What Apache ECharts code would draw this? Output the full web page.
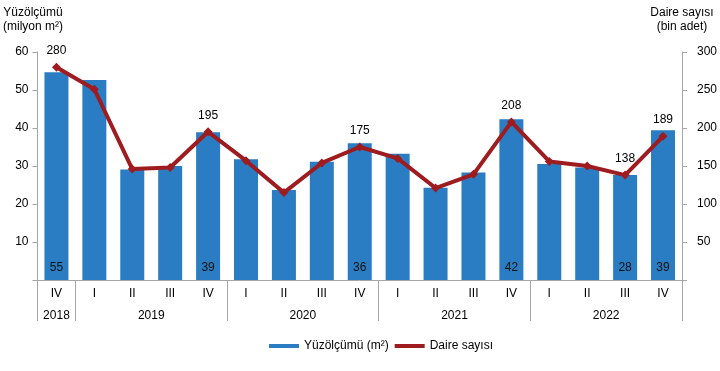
<!DOCTYPE html>
<html>
<head>
<meta charset="utf-8">
<script src="https://cdn.jsdelivr.net/npm/echarts@6/dist/echarts.min.js"></script>
<style>
html,body{margin:0;padding:0;background:#fff;}
#chart{width:720px;height:371px;}
</style>
</head>
<body>
<div id="chart"></div>
<script>
// ---- data ----
const periodYears = ['2018','2019','2019','2019','2019','2020','2020','2020','2020','2021','2021','2021','2021','2022','2022','2022','2022'];
const quarters    = ['IV','I','II','III','IV','I','II','III','IV','I','II','III','IV','I','II','III','IV'];
const areaValues  = [54.7, 52.6, 29.1, 30.0, 38.9, 31.8, 23.7, 31.1, 36.0, 33.2, 24.3, 28.3, 42.3, 30.5, 29.6, 27.6, 39.4];
const unitValues  = [280, 251, 146, 148, 195, 157, 115, 154, 175, 160, 121, 139, 208, 156, 150, 138, 189];
const labeledIdx  = [0, 4, 8, 12, 15, 16];
const leftTicks   = {min: 0, max: 60, interval: 10};
const rightTicks  = {min: 0, max: 300, interval: 50};
const seriesNames = ['Yüzölçümü (m²)', 'Daire sayısı'];

// ---- derived axis data ----
const catKeys = quarters.map((q, i) => periodYears[i] + ' ' + q);
// year axis: points at every half-quarter (boundaryGap false)
const nPts = quarters.length * 2 + 1;
const yearLabelAt = {};
const yearBoundary = new Set([0]);
let start = 0;
for (let i = 1; i <= periodYears.length; i++) {
  if (i === periodYears.length || periodYears[i] !== periodYears[start]) {
    yearLabelAt[start + i] = periodYears[start]; // center (in half units) = start + i
    yearBoundary.add(2 * i);
    start = i;
  }
}
const yearAxisData = Array.from({length: nPts}, (_, k) => 'p' + k);

const labelSet = new Set(labeledIdx);
const FONT = '"Liberation Sans", Arial, sans-serif';
const GRAY = '#a6a6a6';

const chart = echarts.init(document.getElementById('chart'));
chart.setOption({
  animation: false,
  textStyle: {fontFamily: FONT},
  grid: {left: 27, right: 38, top: 52, bottom: 91, containLabel: false},
  legend: {
    left: 264, top: 335,
    itemWidth: 30, itemHeight: 4, itemGap: 6,
    textStyle: {fontFamily: FONT, fontSize: 12, color: '#000'},
    data: [{name: seriesNames[0], icon: 'rect'}, {name: seriesNames[1], icon: 'rect'}]
  },
  xAxis: [
    {
      type: 'category', data: catKeys, position: 'bottom',
      axisLine: {lineStyle: {color: GRAY}},
      axisTick: {interval: 0, length: 20, lineStyle: {color: GRAY}},
      axisLabel: {interval: 0, margin: 8, color: '#000', fontSize: 12, fontFamily: FONT,
                  formatter: v => v.split(' ')[1]}
    },
    {
      type: 'category', data: yearAxisData, position: 'bottom', boundaryGap: false,
      axisLine: {show: false},
      axisTick: {length: 41, lineStyle: {color: GRAY}, interval: (i) => yearBoundary.has(i)},
      axisLabel: {margin: 30, color: '#000', fontSize: 12, fontFamily: FONT,
                  interval: (i) => yearLabelAt[i] !== undefined,
                  formatter: (v, i) => yearLabelAt[i] || ''}
    }
  ],
  yAxis: [
    {
      type: 'value', position: 'left', min: leftTicks.min, max: leftTicks.max, interval: leftTicks.interval,
      name: 'Yüzölçümü\n(milyon m²)', nameLocation: 'end', nameGap: 18,
      nameTextStyle: {color: '#000', fontSize: 12, fontFamily: FONT, lineHeight: 14, align: 'center', padding: [0, 9, 0, 0]},
      splitLine: {show: false},
      axisLine: {show: true, lineStyle: {color: GRAY}},
      axisTick: {show: true, length: 5, lineStyle: {color: GRAY}},
      axisLabel: {color: '#000', fontSize: 12, fontFamily: FONT, margin: 9,
                  formatter: v => v === 0 ? '' : String(v)}
    },
    {
      type: 'value', position: 'right', min: rightTicks.min, max: rightTicks.max, interval: rightTicks.interval,
      name: 'Daire sayısı\n(bin adet)', nameLocation: 'end', nameGap: 18,
      nameTextStyle: {color: '#000', fontSize: 12, fontFamily: FONT, lineHeight: 14, align: 'center'},
      splitLine: {show: false},
      axisLine: {show: true, lineStyle: {color: GRAY}},
      axisTick: {show: true, length: 5, lineStyle: {color: GRAY}},
      axisLabel: {color: '#000', fontSize: 12, fontFamily: FONT, margin: 15,
                  formatter: v => v === 0 ? '' : String(v)}
    }
  ],
  series: [
    {
      name: seriesNames[0], type: 'bar', xAxisIndex: 0, yAxisIndex: 0,
      data: areaValues, barWidth: 24,
      itemStyle: {color: '#2a7dc2'},
      label: {show: true, position: 'insideBottom', distance: 6, color: '#111', fontSize: 12, fontFamily: FONT,
              formatter: p => labelSet.has(p.dataIndex) ? String(Math.round(p.value)) : ''}
    },
    {
      name: seriesNames[1], type: 'line', xAxisIndex: 0, yAxisIndex: 1,
      data: unitValues, symbol: 'diamond', symbolSize: 9, z: 5,
      lineStyle: {color: '#9e1c20', width: 4},
      itemStyle: {color: '#9e1c20'},
      label: {show: true, position: 'top', distance: 6, color: '#000', fontSize: 12, fontFamily: FONT,
              formatter: p => labelSet.has(p.dataIndex) ? String(p.value) : ''}
    }
  ]
});
</script>
</body>
</html>
